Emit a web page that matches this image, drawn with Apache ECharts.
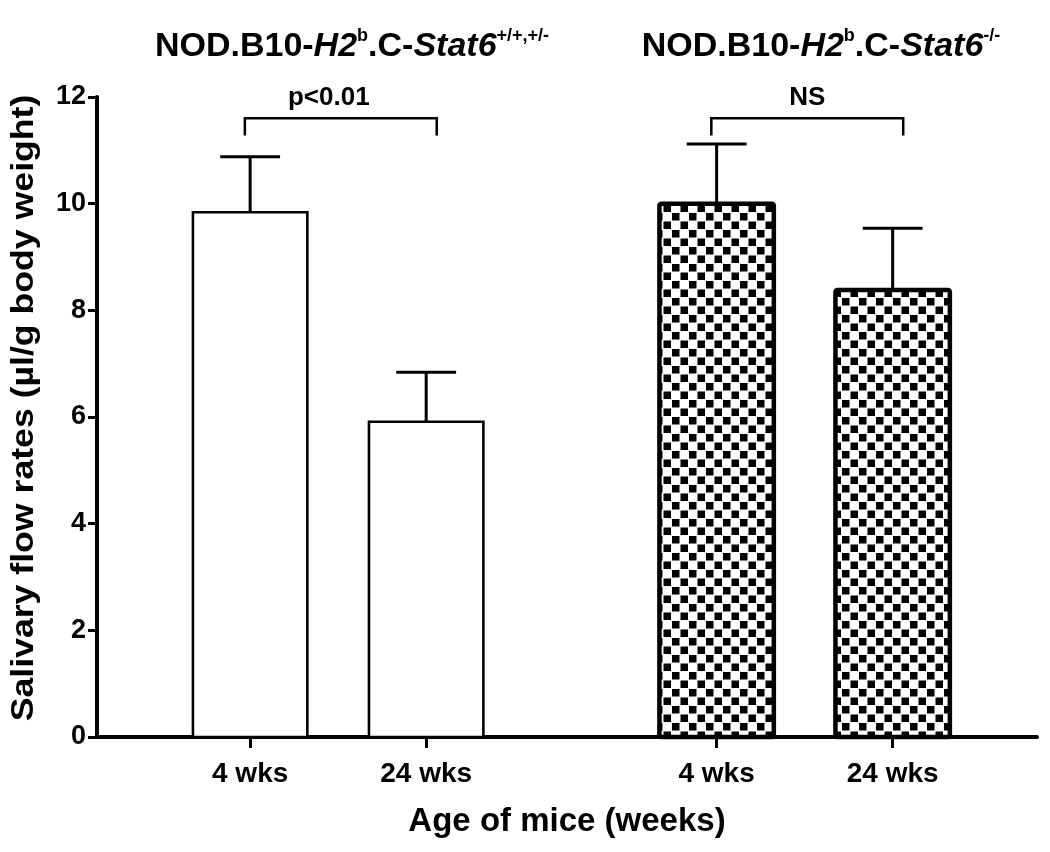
<!DOCTYPE html>
<html><head><meta charset="utf-8">
<script src="https://cdn.jsdelivr.net/npm/echarts@6/dist/echarts.min.js"></script>
<style>html,body{margin:0;padding:0;background:#fff}#c{width:1050px;height:852px}</style>
</head><body><div id="c"></div>
<script>
// ---- data ----
const groupTitles = ['NOD.B10-H2b.C-Stat6+/+,+/-', 'NOD.B10-H2b.C-Stat6-/-'];
const categories = ['4 wks', '24 wks', '4 wks', '24 wks'];
const barGroup = [0, 0, 1, 1];
const means = [9.84, 5.91, 10.0, 8.38];
const sem = [1.04, 0.93, 1.12, 1.16];
const yTicks = [0, 2, 4, 6, 8, 10, 12];
const yTitle = 'Salivary flow rates (µl/g body weight)';
const xTitle = 'Age of mice (weeks)';
const compLabels = ['p<0.01', 'NS'];
const compPairs = [[0, 1], [2, 3]];

// ---- layout ----
const xPos = [0.87, 1.87, 3.52, 4.52];
const xMax = 5.34;
const barW = 0.65, capW = 0.34;
const bracketY = 11.6, bracketLeg = 0.32;
const FONT = 'Liberation Sans, Arial, sans-serif';

const pat = document.createElement('canvas');
pat.width = 17; pat.height = 17;
(function () {
  const c = pat.getContext('2d');
  c.fillStyle = '#fff'; c.fillRect(0, 0, 17, 17);
  c.fillStyle = '#000';
  c.fillRect(0.5, 0.5, 7.5, 7.5);
  c.fillRect(9, 9, 7.5, 7.5);
})();

const chart = echarts.init(document.getElementById('c'), null, {renderer: 'canvas'});

const richStyles = {
  n: {fontFamily: FONT, fontWeight: 'bold', fontSize: 34, color: '#000', lineHeight: 40},
  i: {fontFamily: FONT, fontWeight: 'bold', fontStyle: 'italic', fontSize: 34, color: '#000', lineHeight: 40},
  s: {fontFamily: FONT, fontWeight: 'bold', fontSize: 18, color: '#000', verticalAlign: 'top', lineHeight: 18}
};
function titleRich(t) {
  const m = t.match(/^(NOD\.B10-)(H2)(b)(\.C-)(Stat6)(.*)$/);
  return '{n|' + m[1] + '}{i|' + m[2] + '}{s|' + m[3] + '}{n|' + m[4] + '}{i|' + m[5] + '}{s|' + m[6] + '}';
}
const titleCenters = [347, 816];

const option = {
  animation: false,
  backgroundColor: '#fff',
  title: groupTitles.map((t, k) => ({
    text: titleRich(t),
    left: titleCenters[k],
    top: 22,
    textAlign: 'center',
    textStyle: {rich: richStyles}
  })),
  graphic: [{
    type: 'text',
    x: 24, y: 408,
    rotation: Math.PI / 2,
    scaleX: 1.15,
    style: {text: yTitle, fontFamily: FONT, fontWeight: 'bold', fontSize: 31, fill: '#000', align: 'center', verticalAlign: 'middle'}
  }],
  grid: {left: 97, right: 13, top: 97, bottom: 115, containLabel: false},
  xAxis: {
    type: 'value', min: 0, max: xMax,
    name: xTitle, nameLocation: 'middle', nameGap: 68,
    nameTextStyle: {fontFamily: FONT, fontWeight: 'bold', fontSize: 33, color: '#000'},
    axisLine: {show: true, lineStyle: {color: '#000', width: 4}},
    axisTick: {show: true, customValues: xPos, length: 11, lineStyle: {color: '#000', width: 3}},
    axisLabel: {
      customValues: xPos, margin: 23,
      fontFamily: FONT, fontWeight: 'bold', fontSize: 28, color: '#000',
      formatter: v => {
        let best = 0;
        xPos.forEach((p, i) => { if (Math.abs(p - v) < Math.abs(xPos[best] - v)) best = i; });
        return categories[best];
      }
    },
    splitLine: {show: false}
  },
  yAxis: {
    type: 'value', min: yTicks[0], max: yTicks[yTicks.length - 1], interval: yTicks[1] - yTicks[0],
    axisLine: {show: true, lineStyle: {color: '#000', width: 4}},
    axisTick: {show: true, length: 9, lineStyle: {color: '#000', width: 3}},
    axisLabel: {fontFamily: FONT, fontWeight: 'bold', fontSize: 27, color: '#000', margin: 11},
    splitLine: {show: false}
  },
  series: [
    {
      type: 'custom',
      clip: false,
      data: means.map((m, i) => [xPos[i], m, sem[i], barGroup[i]]),
      renderItem: function (params, api) {
        const x = api.value(0), y = api.value(1), e = api.value(2), g = api.value(3);
        const base = api.coord([x, 0]);
        const top = api.coord([x, y]);
        const et = api.coord([x, y + e]);
        const w = api.size([barW, 0])[0];
        const cw = api.size([capW, 0])[0];
        const lw = g === 0 ? 2.6 : 4.5;
        return {
          type: 'group',
          children: [
            {type: 'line', shape: {x1: top[0], y1: top[1], x2: et[0], y2: et[1]}, style: {stroke: '#000', lineWidth: 3}},
            {type: 'line', shape: {x1: et[0] - cw / 2, y1: et[1], x2: et[0] + cw / 2, y2: et[1]}, style: {stroke: '#000', lineWidth: 3}},
            {type: 'rect', shape: {x: top[0] - w / 2, y: top[1], width: w, height: base[1] - top[1], r: g === 0 ? 0 : 2},
             style: {fill: g === 0 ? '#fff' : {image: pat, repeat: 'repeat'}, stroke: '#000', lineWidth: lw}}
          ]
        };
      },
      z: 2
    },
    {
      type: 'custom',
      clip: false,
      data: compPairs.map((p, k) => [xPos[p[0]] - 0.03, xPos[p[1]] + 0.06, bracketY, k]),
      renderItem: function (params, api) {
        const a = api.value(0), b = api.value(1), y = api.value(2), k = api.value(3);
        const p1 = api.coord([a, y]), p2 = api.coord([b, y]);
        const l1 = api.coord([a, y - bracketLeg]), l2 = api.coord([b, y - bracketLeg]);
        return {
          type: 'group',
          children: [
            {type: 'polyline', shape: {points: [[l1[0], l1[1]], [p1[0], p1[1]], [p2[0], p2[1]], [l2[0], l2[1]]]},
             style: {stroke: '#000', lineWidth: 2.5, fill: null}},
            {type: 'text', x: (p1[0] + p2[0]) / 2 - (k === 0 ? 12 : 0), y: p1[1] - 8,
             style: {text: compLabels[k], fontFamily: FONT, fontWeight: 'bold', fontSize: 26, fill: '#000', align: 'center', verticalAlign: 'bottom'}}
          ]
        };
      },
      z: 3
    }
  ]
};
chart.setOption(option);
</script>
</body></html>
